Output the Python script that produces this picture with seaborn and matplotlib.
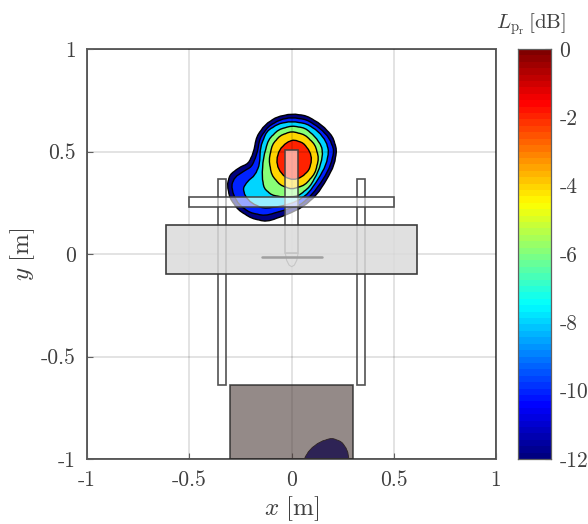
import numpy as np
import matplotlib
matplotlib.use("Agg")
import matplotlib.pyplot as plt
from matplotlib.colors import LinearSegmentedColormap
from matplotlib.patches import Rectangle, PathPatch
from matplotlib.path import Path
import seaborn as sns

# contour outlines, lowest level first [m]
levels = [-12, -10, -8, -6, -4, -2]

x_m12 = [0.001, 0.074, 0.148, 0.201, 0.221, 0.209, 0.172, 0.123, 0.058, -0.024, -0.121,
         -0.195, -0.260, -0.301, -0.314, -0.301, -0.260, -0.211, -0.187, -0.170, -0.130, -0.073]
y_m12 = [0.684, 0.674, 0.630, 0.573, 0.508, 0.435, 0.362, 0.288, 0.231, 0.191, 0.158,
         0.174, 0.215, 0.272, 0.337, 0.386, 0.419, 0.443, 0.492, 0.573, 0.630, 0.668]
x_m10 = [0.001, 0.074, 0.139, 0.185, 0.208, 0.192, 0.156, 0.099, 0.042, -0.040, -0.130,
         -0.203, -0.255, -0.284, -0.293, -0.276, -0.236, -0.195, -0.170, -0.154, -0.113, -0.056]
y_m10 = [0.666, 0.655, 0.614, 0.565, 0.505, 0.435, 0.365, 0.288, 0.239, 0.212, 0.187,
         0.202, 0.239, 0.288, 0.337, 0.375, 0.402, 0.427, 0.484, 0.565, 0.622, 0.655]
x_m8 = [0.001, 0.074, 0.131, 0.169, 0.182, 0.169, 0.131, 0.082, 0.025, -0.056, -0.138,
        -0.195, -0.227, -0.236, -0.216, -0.178, -0.157, -0.151, -0.121, -0.064]
y_m8 = [0.647, 0.635, 0.598, 0.549, 0.500, 0.435, 0.365, 0.296, 0.256, 0.231, 0.223,
        0.248, 0.283, 0.321, 0.353, 0.386, 0.435, 0.524, 0.598, 0.635]
x_m6 = [0.001, 0.066, 0.115, 0.148, 0.152, 0.131, 0.090, 0.033, -0.040, -0.097, -0.134,
        -0.144, -0.138, -0.113, -0.064]
y_m6 = [0.625, 0.614, 0.573, 0.524, 0.476, 0.402, 0.329, 0.283, 0.277, 0.288, 0.321,
        0.378, 0.467, 0.557, 0.606]
x_m4 = [0.001, 0.066, 0.115, 0.133, 0.115, 0.066, 0.001, -0.056, -0.097, -0.110, -0.094, -0.056]
y_m4 = [0.598, 0.581, 0.533, 0.467, 0.394, 0.337, 0.316, 0.337, 0.386, 0.459, 0.533, 0.577]
x_m2 = [0.012, 0.058, 0.090, 0.099, 0.086, 0.050, 0.009, -0.032, -0.064, -0.073, -0.059, -0.024]
y_m2 = [0.557, 0.541, 0.500, 0.459, 0.410, 0.375, 0.362, 0.375, 0.414, 0.459, 0.508, 0.544]

# second patch at the floor, under the grey block, runs on below the axis
x_floor = [0.061, 0.090, 0.139, 0.197, 0.245, 0.273, 0.281, 0.290, 0.050]
y_floor = [-1.0, -0.953, -0.916, -0.898, -0.916, -0.956, -1.0, -1.060, -1.060]

outlines = [(x_m12, y_m12), (x_m10, y_m10), (x_m8, y_m8), (x_m6, y_m6), (x_m4, y_m4), (x_m2, y_m2)]

ticks = [-1, -0.5, 0, 0.5, 1]
tick_labels = ["-1", "-0.5", "0", "0.5", "1"]
cbar_ticks = [0, -2, -4, -6, -8, -10, -12]
cbar_labels = ["0", "-2", "-4", "-6", "-8", "-10", "-12"]

sns.set_theme(style="white")
plt.rcParams["font.family"] = ["cmr10", "DejaVu Serif"]
plt.rcParams["mathtext.fontset"] = "cm"
plt.rcParams["axes.unicode_minus"] = False

text_color = "#404040"
edge_color = "#606060"
# matlab flavour of jet, mpl's own has yellow too far up
jet = LinearSegmentedColormap.from_list("matlab_jet", [(0, (0, 0, 0.5)), (0.125, (0, 0, 1)), (0.375, (0, 1, 1)),
                                                       (0.625, (1, 1, 0)), (0.875, (1, 0, 0)), (1, (0.5, 0, 0))], N=64)


def rounded_outline(xs, ys):
    # closed quadratic path close to the read points, control points pushed out a bit
    pts = np.column_stack([xs, ys])
    mids = (pts + np.roll(pts, -1, axis=0)) / 2
    ctrl = 1.5 * pts - 0.25 * (np.roll(mids, 1, axis=0) + mids)
    verts = [mids[-1]]
    codes = [Path.MOVETO]
    for c, m in zip(ctrl, mids):
        verts += [c, m]
        codes += [Path.CURVE3, Path.CURVE3]
    return Path(verts, codes)


fig = plt.figure(figsize=(5.88, 5.24), dpi=100)
ax = fig.add_axes([87 / 588, 1 - 459 / 524, 409 / 588, 410 / 524])
cax = fig.add_axes([518 / 588, 1 - 459 / 524, 33 / 588, 410 / 524])

# contour bands
for level, (xs, ys) in zip(levels, outlines):
    ax.add_patch(PathPatch(rounded_outline(xs, ys), facecolor=jet((level + 12) / 12), edgecolor="black",
                           linewidth=1.0, zorder=2))
ax.add_patch(PathPatch(rounded_outline(x_floor, y_floor), facecolor=jet(0.0), edgecolor="black",
                       linewidth=0.6, zorder=2))

# model drawn over the field
box_edge = (0.25, 0.25, 0.25, 0.9)
white_fill = (1, 1, 1, 0.6)
for x0, wid, y0, hei in [(-0.358, 0.040, -0.640, 1.006), (0.320, 0.040, -0.640, 1.006)]:
    ax.add_patch(Rectangle((x0, y0), wid, hei, facecolor=white_fill, edgecolor=box_edge, linewidth=1.2, zorder=3))
ax.add_patch(Rectangle((-0.030, 0.003), 0.062, 0.502, facecolor=white_fill, edgecolor=box_edge, linewidth=1.2, zorder=3))
nose_x = [-0.030, -0.024, -0.012, 0.001, 0.014, 0.026, 0.032]
nose_y = [0.003, -0.030, -0.054, -0.062, -0.054, -0.030, 0.003]
ax.fill(nose_x, nose_y, facecolor=white_fill, edgecolor=box_edge, linewidth=0.8, zorder=3)
ax.add_patch(Rectangle((-0.5, 0.228), 1.0, 0.051, facecolor=white_fill, edgecolor=box_edge, linewidth=1.2, zorder=4))
ax.add_patch(Rectangle((-0.615, -0.099), 1.23, 0.242, facecolor=(0.86, 0.86, 0.86, 0.85),
                       edgecolor=(0.2, 0.2, 0.2, 0.95), linewidth=1.2, zorder=5))
ax.plot([-0.146, 0.148], [-0.015, -0.015], color="#a0a0a0", linewidth=1.8, zorder=6)
ax.add_patch(Rectangle((-0.299, -1), 0.598, 0.361, facecolor=(77 / 255, 60 / 255, 57 / 255, 0.6),
                       edgecolor=(0.15, 0.15, 0.15, 0.8), linewidth=1.2, zorder=5))

ax.set_xlim(-1, 1)
ax.set_ylim(-1, 1)
ax.set_xticks(ticks)
ax.set_yticks(ticks)
ax.set_xticklabels(tick_labels)
ax.set_yticklabels(tick_labels)
ax.grid(True, color="black", alpha=0.13, linewidth=1.2, zorder=7)
ax.set_axisbelow(False)
ax.tick_params(direction="in", length=4, width=0.8, color=edge_color, labelcolor=text_color,
               labelsize=15.5, pad=8, bottom=True, left=True)
for spine in ax.spines.values():
    spine.set_color(edge_color)
    spine.set_linewidth(1.4)
ax.set_xlabel(r"$x\ [\mathrm{m}]$", fontsize=18, color=text_color, labelpad=3)
ax.set_ylabel(r"$y\ [\mathrm{m}]$", fontsize=18, color=text_color, labelpad=3)

# colour scale, 64 steps like the original
strip = np.linspace(0, -12, 64).reshape(-1, 1)
sns.heatmap(strip, ax=cax, cmap=jet, vmin=-12, vmax=0, cbar=False, xticklabels=False, yticklabels=False)
cax.set_ylim(64, 0)
cax.yaxis.tick_right()
cax.set_yticks([-t / 12 * 64 for t in cbar_ticks])
cax.set_yticklabels(cbar_labels, rotation=0)
cax.tick_params(axis="y", direction="in", length=4, width=0.8, color=edge_color, labelcolor=text_color,
                labelsize=15.5, pad=6, right=True)
for spine in cax.spines.values():
    spine.set_visible(True)
    spine.set_color(edge_color)
    spine.set_linewidth(0.9)
fig.text(531 / 588, 1 - 24 / 524, r"$L_{\mathrm{p_r}}\,[\mathrm{dB}]$", fontsize=15, color=text_color,
         ha="center", va="center")

fig.savefig("out.png", dpi=100)
